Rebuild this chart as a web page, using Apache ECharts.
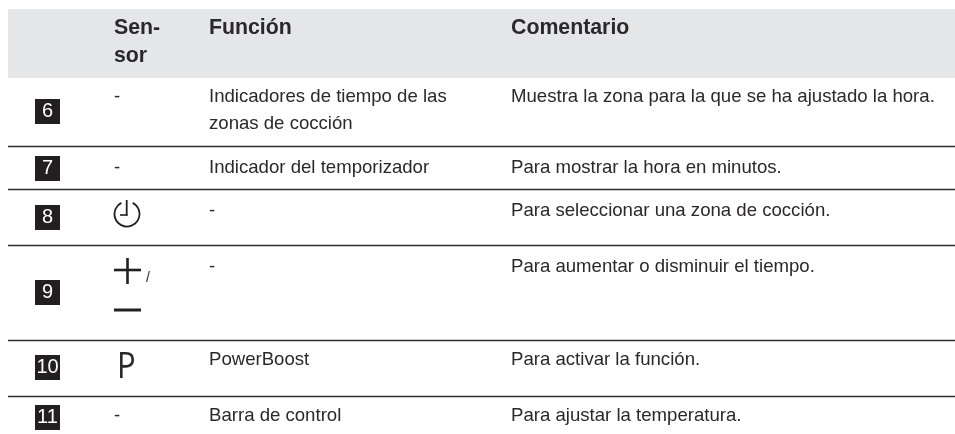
<!DOCTYPE html>
<html>
<head>
<meta charset="utf-8">
<style>
  html, body { margin: 0; padding: 0; background: #fff; }
  #chart { width: 955px; height: 434px; }
</style>
<script src="https://cdn.jsdelivr.net/npm/echarts@6/dist/echarts.min.js"></script>
</head>
<body>
<div id="chart"></div>
<script>
// table content
const headerSensor = ["Sen-", "sor"];
const headerFunction = "Función";
const headerComment = "Comentario";
const rowNumbers = ["6", "7", "8", "9", "10", "11"];
const sensorDashes = ["-", "-", "", "", "", "-"];
const functionLines = [
  ["Indicadores de tiempo de las", "zonas de cocción"],
  ["Indicador del temporizador"],
  ["-"],
  ["-"],
  ["PowerBoost"],
  ["Barra de control"],
];
const commentLines = [
  "Muestra la zona para la que se ha ajustado la hora.",
  "Para mostrar la hora en minutos.",
  "Para seleccionar una zona de cocción.",
  "Para aumentar o disminuir el tiempo.",
  "Para activar la función.",
  "Para ajustar la temperatura.",
];

// layout, in page pixels (the hidden axes run 0-955 and 0-434)
const colX = { badge: 47.5, sensor: 114, func: 209, comment: 511 };
const tableLeft = 8;
const tableRight = 955;
const headerTop = 9;
const headerBottom = 78;
const rowRules = [146, 189, 245, 340, 396];
const badgeY = [111.5, 168.5, 217.5, 292.5, 367.5, 417.5];
const textY = [97, 168, 211, 267, 360, 416];
const lineGap = 27;
const ink = "#231f20";
const textInk = "#2b2829";
const font = "'Liberation Sans', Arial, sans-serif";
const bodySize = 18.6;
const headSize = 21.3;

const textCells = [];
function addText(x, y, text, opts) {
  textCells.push(Object.assign({ value: [x, y], text }, opts));
}
headerSensor.forEach((t, i) => addText(colX.sensor, 28 + i * 28, t, { bold: true, size: headSize }));
addText(colX.func, 28, headerFunction, { bold: true, size: headSize });
addText(colX.comment, 28, headerComment, { bold: true, size: headSize });
rowNumbers.forEach((_, i) => {
  if (sensorDashes[i]) addText(colX.sensor, textY[i], sensorDashes[i]);
  functionLines[i].forEach((t, j) => addText(colX.func, textY[i] + j * lineGap, t));
  addText(colX.comment, textY[i], commentLines[i]);
});
addText(colX.sensor + 32, 278, "/", { size: 14 });
addText(colX.sensor + 3, 368, "P", { size: 36.5, family: "'Open Sans', sans-serif", scaleX: 0.85 });

function seg(api, x1, y1, x2, y2, width, color) {
  const a = api.coord([x1, y1]);
  const b = api.coord([x2, y2]);
  return {
    type: "line",
    shape: { x1: a[0], y1: a[1], x2: b[0], y2: b[1] },
    style: { stroke: color, lineWidth: width },
  };
}

const chart = echarts.init(document.getElementById("chart"), null, { renderer: "canvas" });
chart.setOption({
  animation: false,
  backgroundColor: "#fff",
  grid: { left: 0, right: 0, top: 0, bottom: 0 },
  xAxis: { type: "value", min: 0, max: 955, show: false },
  yAxis: { type: "value", min: 0, max: 434, inverse: true, show: false },
  series: [
    {
      // header band
      type: "custom",
      silent: true,
      data: [[tableLeft, headerTop]],
      renderItem: (params, api) => {
        const a = api.coord([tableLeft, headerTop]);
        const b = api.coord([tableRight, headerBottom]);
        return {
          type: "rect",
          shape: { x: a[0], y: a[1], width: b[0] - a[0], height: b[1] - a[1] },
          style: { fill: "#e5e6e8" },
        };
      },
    },
    {
      // row separators
      type: "custom",
      silent: true,
      data: rowRules.map((y) => [tableLeft, y]),
      renderItem: (params, api) =>
        seg(api, tableLeft, api.value(1) + 0.5, tableRight, api.value(1) + 0.5, 1.3, "#2f2d2e"),
    },
    {
      // number badges
      type: "custom",
      silent: true,
      data: rowNumbers.map((n, i) => [colX.badge, badgeY[i]]),
      renderItem: (params, api) => {
        const c = api.coord([api.value(0), api.value(1)]);
        return {
          type: "group",
          children: [
            {
              type: "rect",
              shape: { x: c[0] - 12.5, y: c[1] - 12.5, width: 25, height: 25 },
              style: { fill: ink },
            },
            {
              type: "text",
              style: {
                x: c[0],
                y: c[1],
                text: rowNumbers[params.dataIndex],
                fill: "#fff",
                font: "20px " + font,
                align: "center",
                verticalAlign: "middle",
              },
            },
          ],
        };
      },
    },
    {
      // sensor glyphs: clock, plus, minus
      type: "custom",
      silent: true,
      data: [[127, 214]],
      renderItem: (params, api) => {
        const c = api.coord([127, 214]);
        return {
          type: "group",
          children: [
            {
              type: "arc",
              shape: {
                cx: c[0],
                cy: c[1],
                r: 12.5,
                startAngle: (-63 * Math.PI) / 180,
                endAngle: (-117 * Math.PI) / 180,
                clockwise: true,
              },
              style: { stroke: ink, lineWidth: 1.8, fill: null },
            },
            seg(api, 126.7, 200, 126.7, 215.5, 1.8, ink),
            seg(api, 120, 215, 127.6, 215, 1.6, ink),
            seg(api, 114, 270, 141, 270, 2.6, ink),
            seg(api, 127.5, 258, 127.5, 284, 2.6, ink),
            seg(api, 114, 310, 141, 310, 3, ink),
          ],
        };
      },
    },
    {
      // all text cells
      type: "custom",
      silent: true,
      data: textCells.map((c) => c.value),
      renderItem: (params, api) => {
        const cell = textCells[params.dataIndex];
        const c = api.coord([api.value(0), api.value(1)]);
        const size = cell.size || bodySize;
        const weight = cell.bold ? "bold" : "normal";
        return {
          type: "text",
          x: c[0],
          y: c[1],
          scaleX: cell.scaleX || 1,
          style: {
            x: 0,
            y: 0,
            text: cell.text,
            fill: textInk,
            font: weight + " " + size + "px " + (cell.family || font),
            align: "left",
            verticalAlign: "middle",
          },
        };
      },
    },
  ],
});
</script>
</body>
</html>
